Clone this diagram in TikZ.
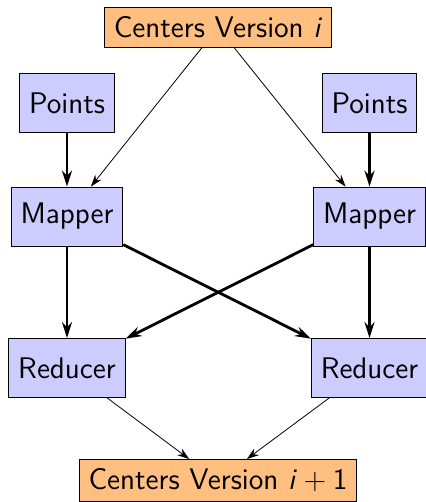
\documentclass[tikz,border=0pt]{standalone}
\usepackage{tikz}
\usetikzlibrary{arrows.meta}
\renewcommand{\familydefault}{\sfdefault}

\begin{document}
\begin{tikzpicture}[x=0.5pt,y=-0.5pt,
  every node/.style={draw,align=center,font=\fontsize{14.9}{17}\selectfont},
  task/.style={fill=blue!20,minimum height=29.5pt,inner sep=4.7pt},
  centers/.style={fill=orange!50,inner sep=4.7pt},
  flow/.style={-{Stealth[length=8pt,width=5pt]},line width=1.4pt},
  sync/.style={-{Stealth[length=6pt,width=4pt]},line width=0.4pt}]
\useasboundingbox (0,0) rectangle (426,502);

\node[centers] (old)  at (218,27.5)  {Centers Version \textit{i}};
\node[task]    (ptsA) at (67,103)    {Points};
\node[task]    (ptsB) at (369.5,103) {Points};
\node[task]    (mapA) at (67,216.5)  {Mapper};
\node[task]    (mapB) at (369.5,216.5) {Mapper};
\node[task]    (redA) at (67,368)    {Reducer};
\node[task]    (redB) at (369.5,368) {Reducer};
\node[centers] (new)  at (218,480.5) {Centers Version \textit{i}\:+\:1};

\draw[sync] (old) -- (mapA);
\draw[sync] (old) -- (mapB);
\draw[flow] (ptsA) -- (mapA);
\draw[flow] (ptsB) -- (mapB);
\draw[flow] (mapA) -- (redA);
\draw[flow] (mapB) -- (redB);
\draw[flow] (mapA) -- (redB);
\draw[flow] (mapB) -- (redA);
\draw[sync] (redA) -- (new);
\draw[sync] (redB) -- (new);
\end{tikzpicture}
\end{document}
